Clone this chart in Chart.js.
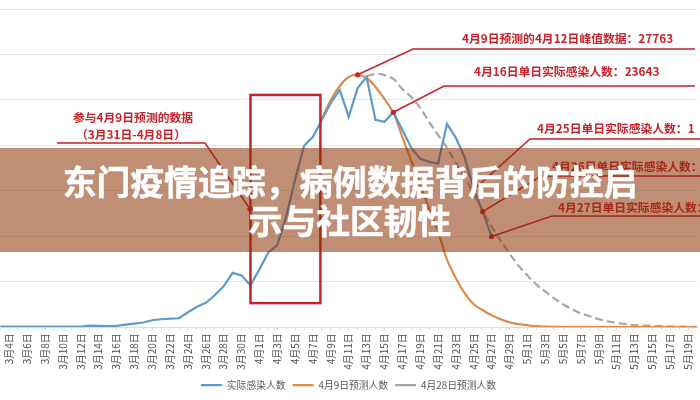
<!DOCTYPE html>
<html><head><meta charset="utf-8">
<script src="https://cdn.jsdelivr.net/npm/chart.js@4"></script>
<style>
html,body{margin:0;padding:0;background:#fff;width:700px;height:400px;overflow:hidden}
#wrap{position:relative;width:700px;height:400px}
canvas{position:absolute;left:0;top:0;filter:blur(0.35px)}
#banner{position:absolute;left:0;top:148px;width:700px;height:104px;box-sizing:border-box;padding:13px 50px 0;background:rgba(140,47,4,.55);color:#fff;font:bold 33.8px/39px "Noto Sans CJK SC",sans-serif;text-align:center;-webkit-text-stroke:0.5px #fff}
</style></head><body>
<div id="wrap"><canvas id="c" width="700" height="400"></canvas>
<div id="banner">东门疫情追踪，病例数据背后的防控启示与社区韧性</div></div>
<script>
const categories=["3月3日","3月4日","3月5日","3月6日","3月7日","3月8日","3月9日","3月10日","3月11日","3月12日","3月13日","3月14日","3月15日","3月16日","3月17日","3月18日","3月19日","3月20日","3月21日","3月22日","3月23日","3月24日","3月25日","3月26日","3月27日","3月28日","3月29日","3月30日","3月31日","4月1日","4月2日","4月3日","4月4日","4月5日","4月6日","4月7日","4月8日","4月9日","4月10日","4月11日","4月12日","4月13日","4月14日","4月15日","4月16日","4月17日","4月18日","4月19日","4月20日","4月21日","4月22日","4月23日","4月24日","4月25日","4月26日","4月27日","4月28日","4月29日","4月30日","5月1日","5月2日","5月3日","5月4日","5月5日","5月6日","5月7日","5月8日","5月9日","5月10日","5月11日","5月12日","5月13日","5月14日","5月15日","5月16日","5月17日","5月18日","5月19日","5月20日"];
const actual=[77,77,77,77,77,77,77,77,77,77,164,143,132,154,274,384,515,768,877,943,987,1645,2248,2686,3509,4496,5976,5702,4605,6360,8224,8991,12171,16228,19956,20943,22807,24671,26097,23136,26316,27522,22807,22588,23643,21711,19737,18531,18202,17983,22369,20833,18641,15132,12719,9978];
const forecast0409=[null,null,null,null,null,null,null,null,null,null,null,null,null,null,null,null,null,null,null,null,null,null,null,null,null,null,null,null,null,null,null,null,null,null,null,null,22917,25000,26535,27522,27763,27413,26426,25110,23575,20943,18312,15680,13048,10526,7456,5373,3728,2522,1864,1316,877,548,329,219,110,66,44,22,20,18,16,14,12,10,9,8,7,6,5,4,3,3,2];
const forecast0428=[null,null,null,null,null,null,null,null,null,null,null,null,null,null,null,null,null,null,null,null,null,null,null,null,null,null,null,null,null,null,null,null,null,null,null,null,null,null,null,null,null,27632,27851,27741,27303,26206,25329,24123,22588,21162,19737,18092,16448,14693,12829,11075,9540,8114,6798,5702,4715,3948,3180,2522,1974,1535,1206,877,658,493,329,241,186,143,110,88,66,55,44];
const seriesNames=["实际感染人数","4月9日预测人数","4月28日预测人数"];
const RED="#c8222b";
const windowBox={from:"3月31日",to:"4月8日",low:2650,high:25548};
const callouts=[
 {text:"4月9日预测的4月12日峰值数据：27763",tx:462,ty:39,day:"4月12日",src:forecast0409,elbow:[413,49],end:695},
 {text:"4月16日单日实际感染人数：23643",tx:474,ty:72,day:"4月16日",src:actual,elbow:[444,86],end:695},
 {text:"4月25日单日实际感染人数：1",tx:537,ty:129,day:"4月25日",src:actual,elbow:[530,139],end:700},
 {text:"4月26日单日实际感染人数：1",tx:552,ty:167,day:"4月26日",src:actual,elbow:[541,176],end:700},
 {text:"4月27日单日实际感染人数：1",tx:558,ty:208,day:"4月27日",src:actual,elbow:[552,216],end:700}
];
const notes={l1:"参与4月9日预测的数据",l2:"（3月31日-4月8日）"};
const annot={id:"annot",afterDatasetsDraw(ch){
 const c=ch.ctx,x=ch.scales.x,y=ch.scales.y;
 c.save();
 c.strokeStyle=RED;c.fillStyle=RED;c.lineWidth=1.6;
 const dot=(a,b)=>{c.beginPath();c.arc(a,b,2.6,0,7);c.fill();};
 c.textBaseline="middle";c.textAlign="left";
 c.font='bold 11.8px "Noto Sans CJK SC",sans-serif';
 for(const k of callouts){
  const i=categories.indexOf(k.day),px=x.getPixelForValue(i),py=y.getPixelForValue(k.src[i]);
  c.beginPath();c.moveTo(px,py);c.lineTo(k.elbow[0],k.elbow[1]);c.lineTo(k.end,k.elbow[1]);c.stroke();
  dot(px,py);
  c.fillText(k.text,k.tx,k.ty);
 }
 c.fillText(notes.l1,73,118);c.fillText(notes.l2,76,135);
 c.beginPath();c.moveTo(57,143);c.lineTo(205,143);c.lineTo(250,209);c.stroke();dot(250,209);
 const L=x.getPixelForValue(categories.indexOf(windowBox.from)),R=x.getPixelForValue(categories.indexOf(windowBox.to))-1.5;
 const T=y.getPixelForValue(windowBox.high),B=y.getPixelForValue(windowBox.low);
 c.lineWidth=2.5;c.strokeRect(L,T,R-L,B-T);
 c.restore();
}};
new Chart(document.getElementById("c"),{type:"line",plugins:[annot],
 data:{labels:categories,datasets:[
  {label:seriesNames[0],data:actual,borderColor:"#5f9ac9",backgroundColor:"#5f9ac9",borderWidth:2.2,pointRadius:0,tension:0},
  {label:seriesNames[1],data:forecast0409,borderColor:"#e08a45",backgroundColor:"#e08a45",borderWidth:2.2,pointRadius:0,tension:0.35},
  {label:seriesNames[2],data:forecast0428,borderColor:"#a6a6a6",backgroundColor:"#a6a6a6",borderWidth:2.2,borderDash:[8,4],pointRadius:0,tension:0.35}
 ]},
 options:{responsive:false,animation:false,devicePixelRatio:1,
  layout:{padding:{left:0,right:3,top:9,bottom:0}},
  plugins:{title:{display:false},tooltip:{enabled:false},
   legend:{position:"bottom",labels:{usePointStyle:true,pointStyle:"line",pointStyleWidth:21,boxHeight:9,padding:7,color:"#595959",font:{size:9.8,family:'"Noto Sans CJK SC",sans-serif'}}}},
  scales:{
   x:{offset:false,grid:{drawOnChartArea:false,drawTicks:true,tickLength:3,tickColor:"#dddddd"},border:{color:"#dddddd"},
      afterFit(s){s.height=46;s.paddingLeft=0;s.paddingRight=0;},
      ticks:{autoSkip:false,minRotation:90,maxRotation:90,padding:3,color:"#505050",font:{size:10,family:'"Noto Sans CJK SC",sans-serif'},
       callback(v,i){return i%2===1?categories[i]:"";}}},
   y:{min:0,max:35000,grid:{color:"#e6e6e6",lineWidth:1,drawTicks:false},border:{display:false},
      afterFit(s){s.width=0.4;},
      ticks:{display:false,stepSize:5000}}
  }}});
</script></body></html>
